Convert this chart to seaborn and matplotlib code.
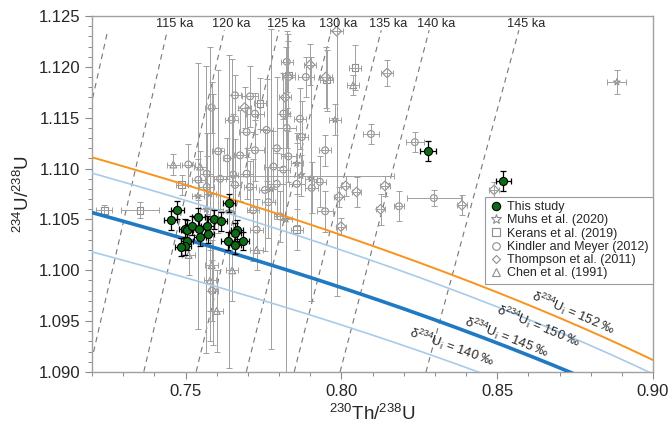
import numpy as np
import pandas as pd
import seaborn as sns
import matplotlib.pyplot as plt
from matplotlib.lines import Line2D
from matplotlib.ticker import MultipleLocator, FormatStrFormatter

# This study
study_x = [0.7474, 0.7452, 0.7541, 0.7640, 0.7591, 0.7614, 0.7498, 0.7504, 0.7522, 0.7544, 0.7570, 0.7571,
           0.7547, 0.7666, 0.7659, 0.7635, 0.7685, 0.7658, 0.7504, 0.7498, 0.7486, 0.8279, 0.8520]
study_y = [1.1059, 1.1049, 1.1052, 1.1066, 1.1050, 1.1048, 1.1041, 1.1040, 1.1044, 1.1041, 1.1044, 1.1036,
           1.1033, 1.1040, 1.1037, 1.1029, 1.1029, 1.1025, 1.1029, 1.1024, 1.1023, 1.1117, 1.1088]
study_xerr = [0.002] * 21 + [0.0025, 0.0025]
study_yerr = [0.0009] * 21 + [0.001, 0.001]

# Literature data
muhs_x = [0.8884, 0.7980, 0.7540, 0.7567, 0.7578, 0.7588, 0.7640, 0.7775, 0.7823, 0.7903, 0.7870, 0.7857]
muhs_y = [1.1185, 1.1148, 1.1073, 1.1060, 1.1075, 1.1050, 1.1058, 1.1080, 1.1050, 1.1090, 1.1093, 1.1105]
muhs_xerr = [0.003, 0.002, 0.002, 0.002, 0.002, 0.002, 0.002, 0.002, 0.002, 0.002, 0.030, 0.002]
muhs_yerr = [0.0012, 0.0015, 0.0131, 0.0141, 0.0145, 0.0123, 0.0154, 0.0157, 0.0170, 0.0120, 0.0020, 0.0030]

kerans_x = [0.7239, 0.7354, 0.7488, 0.7739, 0.7953, 0.8044, 0.7857, 0.7830]
kerans_y = [1.1059, 1.1059, 1.1084, 1.1164, 1.1187, 1.1199, 1.1040, 1.1192]
kerans_xerr = [0.0025, 0.006, 0.002, 0.002, 0.002, 0.002, 0.002, 0.002]
kerans_yerr = [0.0005, 0.0008, 0.0010, 0.0025, 0.0030, 0.0022, 0.0020, 0.0040]

kindler_x = [0.7659, 0.7707, 0.7584, 0.7814, 0.7723, 0.7648, 0.7867, 0.7696, 0.7760, 0.7825, 0.7873, 0.7605,
             0.7634, 0.7675, 0.7723, 0.7793, 0.7830, 0.7509, 0.7568, 0.7611, 0.7653, 0.7696, 0.7782, 0.7814,
             0.7541, 0.7568, 0.7659, 0.7707, 0.7755, 0.7793, 0.7857, 0.7905, 0.7766, 0.7717, 0.7728, 0.7803,
             0.7948, 0.8095, 0.8236, 0.8185, 0.8297, 0.7825, 0.7830, 0.7886, 0.7585, 0.7948, 0.7931]
kindler_y = [1.1172, 1.1171, 1.1160, 1.1154, 1.1154, 1.1148, 1.1149, 1.1136, 1.1138, 1.1140, 1.1131, 1.1117,
             1.1110, 1.1113, 1.1118, 1.1120, 1.1112, 1.1104, 1.1095, 1.1090, 1.1094, 1.1095, 1.1102, 1.1099,
             1.1089, 1.1082, 1.1084, 1.1082, 1.1079, 1.1085, 1.1085, 1.1081, 1.1067, 1.1059, 1.1040, 1.1053,
             1.1058, 1.1134, 1.1126, 1.1063, 1.1071, 1.1205, 1.1190, 1.1190, 1.0980, 1.1118, 1.1087]
kindler_xerr = [0.002, 0.0025, 0.002, 0.002, 0.003, 0.002, 0.002, 0.0025, 0.002, 0.003, 0.002, 0.002,
                0.0015, 0.002, 0.003, 0.002, 0.0025, 0.002, 0.002, 0.002, 0.0015, 0.002, 0.003, 0.002,
                0.002, 0.0025, 0.002, 0.002, 0.002, 0.003, 0.0025, 0.002, 0.002, 0.002, 0.002, 0.002,
                0.0025, 0.0025, 0.003, 0.0015, 0.0087, 0.002, 0.002, 0.0025, 0.002, 0.002, 0.002]
kindler_yerr = [0.0020, 0.0030, 0.0025, 0.0040, 0.0020, 0.0060, 0.0030, 0.0025, 0.0050, 0.0020, 0.0035, 0.0080,
                0.0020, 0.0045, 0.0030, 0.0070, 0.0025, 0.0020, 0.0040, 0.0030, 0.0060, 0.0025, 0.0035, 0.0050,
                0.0020, 0.0030, 0.0045, 0.0025, 0.0060, 0.0030, 0.0040, 0.0025, 0.0035, 0.0050, 0.0030, 0.0025,
                0.0020, 0.0010, 0.0010, 0.0015, 0.0008, 0.0030, 0.0035, 0.0020, 0.0030, 0.0015, 0.0025]

thompson_x = [0.7985, 0.7900, 0.8147, 0.8014, 0.8049, 0.8140, 0.7992, 0.8126, 0.8387, 0.7999, 0.8490,
              0.7950, 0.7820, 0.7690]
thompson_y = [1.1235, 1.1202, 1.1194, 1.1083, 1.1077, 1.1083, 1.1072, 1.1060, 1.1064, 1.1043, 1.1079,
              1.1190, 1.1170, 1.1160]
thompson_xerr = [0.002, 0.002, 0.002, 0.0015, 0.0015, 0.0015, 0.0015, 0.0015, 0.0015, 0.0015, 0.0015,
                 0.002, 0.002, 0.002]
thompson_yerr = [0.026, 0.002, 0.0013, 0.0010, 0.0015, 0.0010, 0.0010, 0.0015, 0.0010, 0.0008, 0.0008,
                 0.003, 0.002, 0.002]

chen_x = [0.7461, 0.7547, 0.7510, 0.7584, 0.7579, 0.7728, 0.8038, 0.7650, 0.7600]
chen_y = [1.1104, 1.1102, 1.1015, 1.1005, 1.0990, 1.1020, 1.1182, 1.1000, 1.0960]
chen_xerr = [0.002] * 9
chen_yerr = [0.0010, 0.0015, 0.0020, 0.0025, 0.0030, 0.0020, 0.0010, 0.0030, 0.0040]

# isochrons (ka) and their labels as printed
iso_ages = [110, 115, 120, 125, 130, 135, 140, 150]
iso_labels = ['', '115 ka', '120 ka', '125 ka', '130 ka', '135 ka', '140 ka', '145 ka']

# initial d234U evolution lines (permil)
d0_values = [152, 150, 145, 140]
d0_colors = ['#f7941d', '#a8cbe9', '#1f7ac3', '#a8cbe9']
d0_widths = [1.4, 1.2, 2.6, 1.2]
d0_label_pos = [(0.8745, 1.0958), (0.8634, 1.0945), (0.8531, 1.0934), (0.8355, 1.0925)]

L230 = 9.1705e-6
L234 = 2.8221e-6


def th_ratio(t, d):
    # 230Th/238U for age t (yr) and measured d234U (fraction)
    return 1 - np.exp(-L230 * t) + d * L230 / (L230 - L234) * (1 - np.exp(-(L230 - L234) * t))


sns.set_style("ticks")
plt.rcParams['font.family'] = ['Liberation Sans', 'DejaVu Sans']
plt.rcParams['mathtext.default'] = 'regular'

fig, ax = plt.subplots(figsize=(6.71, 4.29), dpi=100)
fig.subplots_adjust(left=92 / 671, right=653 / 671, bottom=57 / 429, top=413 / 429)
ax.set_xlim(0.72, 0.90)
ax.set_ylim(1.090, 1.125)

# isochrons
y_iso = np.array([1.080, 1.1236])
for age, lab in zip(iso_ages, iso_labels):
    x_iso = th_ratio(age * 1e3, y_iso - 1)
    sns.lineplot(x=x_iso, y=y_iso, sort=False, estimator=None, color='#777777', lw=0.8,
                 linestyle=(0, (5, 4)), ax=ax, zorder=1)
    if lab:
        ax.annotate(lab, (x_iso[1], 1.1242), xytext=(5, 0), textcoords='offset points',
                    ha='center', va='center', fontsize=9.2, zorder=7)

# literature points
sources = {
    'Muhs et al. (2020)': (muhs_x, muhs_y, muhs_xerr, muhs_yerr, '*'),
    'Kerans et al. (2019)': (kerans_x, kerans_y, kerans_xerr, kerans_yerr, 's'),
    'Kindler and Meyer (2012)': (kindler_x, kindler_y, kindler_xerr, kindler_yerr, 'o'),
    'Thompson et al. (2011)': (thompson_x, thompson_y, thompson_xerr, thompson_yerr, 'D'),
    'Chen et al. (1991)': (chen_x, chen_y, chen_xerr, chen_yerr, '^'),
}
lit = pd.concat([pd.DataFrame({'th': v[0], 'u': v[1], 'source': k}) for k, v in sources.items()])
grey = '#8e8e8e'
sns.scatterplot(data=lit, x='th', y='u', style='source',
                markers={k: v[4] for k, v in sources.items()},
                color='white', edgecolor=grey, linewidth=0.8, s=24, legend=False, ax=ax, zorder=2)
for k, v in sources.items():
    ax.errorbar(v[0], v[1], xerr=v[2], yerr=v[3], fmt='none', ecolor='#a0a0a0',
                elinewidth=0.7, capsize=2.2, capthick=0.7, zorder=3)

# initial d234U lines
t = np.linspace(60e3, 320e3, 600)
for d0, col, lw, pos in zip(d0_values, d0_colors, d0_widths, d0_label_pos):
    d = d0 / 1000 * np.exp(-L234 * t)
    xs, ys = th_ratio(t, d), 1 + d
    sns.lineplot(x=xs, y=ys, sort=False, estimator=None, color=col, lw=lw, ax=ax, zorder=4)
    i = np.argmin(np.abs(xs - pos[0]))
    p1 = ax.transData.transform((xs[i - 5], ys[i - 5]))
    p2 = ax.transData.transform((xs[i + 5], ys[i + 5]))
    ang = np.degrees(np.arctan2(p2[1] - p1[1], p2[0] - p1[0]))
    ax.text(pos[0], pos[1], r'δ$^{234}$U$_i$ = ' + str(d0) + ' ‰', rotation=ang,
            rotation_mode='anchor', ha='center', va='center', fontsize=9.4, zorder=7)

# this study
ax.errorbar(study_x, study_y, xerr=study_xerr, yerr=study_yerr, fmt='none', ecolor='black',
            elinewidth=0.9, capsize=2.2, capthick=0.9, zorder=5)
sns.scatterplot(x=study_x, y=study_y, color='#0c6b14', edgecolor='black', linewidth=0.8, s=34,
                legend=False, ax=ax, zorder=6)

# axes styling
ax.xaxis.set_major_locator(MultipleLocator(0.05))
ax.xaxis.set_minor_locator(MultipleLocator(0.01))
ax.yaxis.set_major_locator(MultipleLocator(0.005))
ax.yaxis.set_minor_locator(MultipleLocator(0.001))
ax.xaxis.set_major_formatter(FormatStrFormatter('%.2f'))
ax.yaxis.set_major_formatter(FormatStrFormatter('%.3f'))
ax.tick_params(which='major', direction='out', length=5, width=0.8, color='#8a8a8a', labelsize=12)
ax.tick_params(which='minor', direction='out', length=3, width=0.7, color='#8a8a8a')
for s in ax.spines.values():
    s.set_color('#a0a0a0')
    s.set_linewidth(1.0)
ax.set_xlabel(r'$^{230}$Th/$^{238}$U', fontsize=13.5)
ax.set_ylabel(r'$^{234}$U/$^{238}$U', fontsize=13.5)

handles = [Line2D([], [], ls='none', marker='o', ms=6, mfc='#0c6b14', mec='black', mew=0.8)]
for k, v in sources.items():
    ms = {'*': 7, 'D': 4.5, 's': 5.5, 'o': 5.5, '^': 5.5}[v[4]]
    handles.append(Line2D([], [], ls='none', marker=v[4], ms=ms, mfc='white', mec=grey, mew=0.8))
labels = ['This study'] + list(sources.keys())
leg = ax.legend(handles, labels, loc='upper right', bbox_to_anchor=(1.0, 0.492), fontsize=9,
                frameon=True, fancybox=False, edgecolor='#9a9a9a', framealpha=1,
                handlelength=1.0, handletextpad=0.4, labelspacing=0.1, borderpad=0.35,
                borderaxespad=0.0)
leg.get_frame().set_linewidth(0.8)
leg.set_zorder(8)

fig.savefig('out.png', dpi=100)
